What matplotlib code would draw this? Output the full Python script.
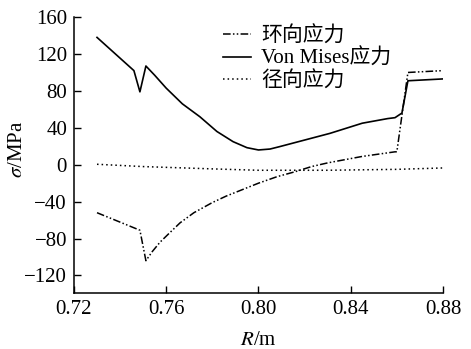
import matplotlib
matplotlib.use("Agg")
import matplotlib.pyplot as plt

plt.rcParams['font.family'] = ['Liberation Serif', 'Noto Sans CJK SC']
plt.rcParams['mathtext.fontset'] = 'stix'

# radius (m) and stresses (MPa)
r_hoop = [0.730, 0.7486, 0.7512, 0.754, 0.7573, 0.761, 0.766, 0.772, 0.780,
          0.786, 0.792, 0.800, 0.808, 0.816, 0.823, 0.830, 0.845, 0.8592,
          0.8600, 0.8648, 0.880]
hoop = [-52, -71, -104, -94, -84, -75, -63, -52, -41,
        -34, -28, -20, -13, -7.5, -2, 2, 9, 14,
        14, 100, 102]

r_vm = [0.730, 0.746, 0.7486, 0.7512, 0.755, 0.760, 0.767, 0.7746, 0.782,
        0.789, 0.795, 0.800, 0.805, 0.809, 0.831, 0.845, 0.856, 0.8592,
        0.8622, 0.8648, 0.880]
vm = [138, 102, 79, 107, 97, 83, 66, 52, 36,
      25, 18.5, 16, 17, 19.5, 34, 45, 50, 51,
      56, 91, 93]

r_rad = [0.730, 0.750, 0.780, 0.800, 0.830, 0.860, 0.880]
rad = [0.5, -2, -4.5, -6, -6, -5, -3.5]

fs = 15

fig = plt.figure(figsize=(4.71, 3.49), dpi=100)
ax = fig.add_axes([0.157, 0.1605, 0.7835, 0.7905])

ax.plot(r_hoop, hoop, color='black', lw=1.1, ls=(0, (5, 1.5, 1, 1.5, 1, 1.5)), label='环向应力')
ax.plot(r_vm, vm, color='black', lw=1.2, ls='-', label='Von Mises应力')
ax.plot(r_rad, rad, color='black', lw=1.1, ls=(0, (1, 2)), label='径向应力')

ax.set_xlim(0.72, 0.88)
ax.set_ylim(-139, 160)
ax.set_xticks([0.72, 0.76, 0.80, 0.84, 0.88])
ax.set_xticklabels(['0.72', '0.76', '0.80', '0.84', '0.88'])
ax.set_yticks([-120, -80, -40, 0, 40, 80, 120, 160])
ax.set_yticklabels(['\u2212120', '\u221280', '\u221240', '0', '40', '80', '120', '160'])
ax.tick_params(direction='in', length=5, width=1, labelsize=fs, pad=5)

ax.spines['top'].set_visible(False)
ax.spines['right'].set_visible(False)
for s in ['left', 'bottom']:
    ax.spines[s].set_linewidth(1.1)

ax.set_xlabel('$R$/m', fontsize=fs, labelpad=9)
ax.set_ylabel(r'$\sigma$/MPa', fontsize=fs)
ax.yaxis.set_label_coords(-0.127, 0.52)

ax.legend(loc='upper left', bbox_to_anchor=(0.352, 1.035), frameon=False,
          fontsize=fs, handlelength=1.35, handletextpad=0.5, labelspacing=0.12)

fig.savefig('out.png', dpi=100)
